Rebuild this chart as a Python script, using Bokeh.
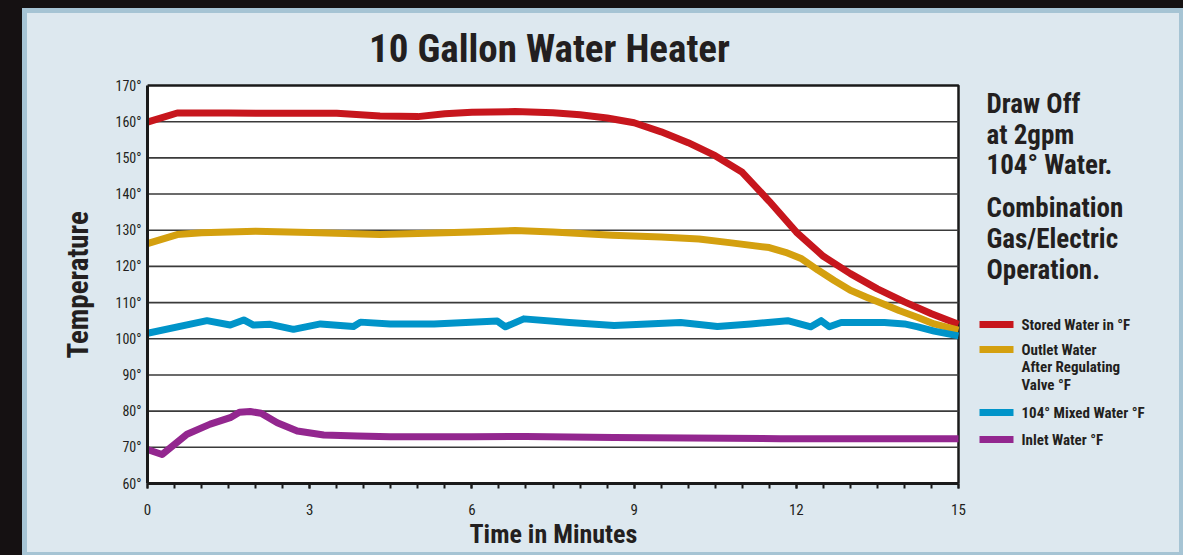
from bokeh.plotting import figure
from bokeh.models import Range1d, FixedTicker, Label, BoxAnnotation, Title
from bokeh.embed import file_html
from bokeh.resources import INLINE

# ---------------- data ----------------
stored_t = [0, 0.55, 1.5, 2.5, 3.5, 4.3, 5.0, 5.5, 6.0, 6.8, 7.5, 8.0, 8.5, 9.0,
            9.5, 10.0, 10.5, 11.0, 11.5, 12.0, 12.5, 13.0, 13.5, 14.0, 14.5, 15.0]
stored_v = [159.9, 162.4, 162.4, 162.3, 162.3, 161.6, 161.4, 162.2, 162.6, 162.8,
            162.5, 161.9, 161.0, 159.7, 157.2, 154.2, 150.6, 146.0, 138.0, 129.5,
            122.8, 118.0, 113.8, 110.2, 106.9, 104.0]

outlet_t = [0, 0.55, 1.0, 2.0, 3.0, 4.3, 5.0, 6.0, 6.8, 7.5, 8.6, 9.5, 10.2, 10.8,
            11.5, 11.8, 12.1, 12.4, 12.7, 13.0, 13.3, 13.6, 13.9, 14.25, 14.55, 15.0]
outlet_v = [126.3, 128.8, 129.3, 129.7, 129.4, 128.8, 129.1, 129.5, 129.9, 129.5,
            128.6, 128.1, 127.6, 126.5, 125.2, 123.9, 122.1, 119.0, 116.1, 113.4,
            111.5, 109.7, 107.8, 105.9, 104.1, 102.4]

mixed_t = [0, 1.1, 1.53, 1.78, 1.96, 2.27, 2.7, 3.2, 3.81, 3.94, 4.49, 5.3, 6.47,
           6.62, 6.96, 7.8, 8.63, 9.86, 10.42, 10.54, 11.16, 11.84, 12.27, 12.46,
           12.61, 12.83, 13.63, 14.0, 14.25, 14.55, 15.0]
mixed_v = [101.5, 105.0, 103.8, 105.2, 103.8, 104.0, 102.6, 104.1, 103.4, 104.6,
           104.1, 104.1, 104.9, 103.3, 105.5, 104.5, 103.7, 104.5, 103.6, 103.4,
           104.1, 105.0, 103.3, 105.0, 103.3, 104.5, 104.5, 104.1, 103.3, 102.1, 100.8]

inlet_t = [0, 0.27, 0.73, 1.16, 1.53, 1.7, 1.9, 2.1, 2.4, 2.77, 3.26, 3.88, 4.49,
           6.0, 7.0, 8.63, 11.71, 15.0]
inlet_v = [69.4, 68.0, 73.6, 76.4, 78.2, 79.7, 79.9, 79.4, 76.8, 74.5, 73.4, 73.1,
           72.9, 72.9, 73.0, 72.7, 72.4, 72.4]

x_ticks = [0, 3, 6, 9, 12, 15]
y_ticks = [60, 70, 80, 90, 100, 110, 120, 130, 140, 150, 160, 170]

title_text = "10 Gallon Water Heater"
x_title = "Time in Minutes"
y_title = "Temperature"
note_lines = ["Draw Off", "at 2gpm", "104\u00b0 Water.", "Combination", "Gas/Electric", "Operation."]
legend_labels = [["Stored Water in \u00b0F"],
                 ["Outlet Water", "After Regulating", "Valve \u00b0F"],
                 ["104\u00b0 Mixed Water \u00b0F"],
                 ["Inlet Water \u00b0F"]]

# ---------------- style / layout ----------------
FONT = "Roboto Condensed, DejaVu Sans Condensed, Liberation Sans, sans-serif"
RED, GOLD, BLUE, PURPLE = "#c7161d", "#d4a00f", "#0094c9", "#93278f"
PANEL, EDGE, DARK, INK = "#dde8ef", "#a6c4d4", "#151112", "#231f20"

OX, OY = 22, 8                      # figure offset on the page (dark band)
W, H = 1183 - OX, 555 - OY
PL, PR, PT, PB = 147, 958, 85, 483  # plot box on the page (x 0..15, y 60..170)
ML = PL - OX
MB = 555 - PB
FW = W - ML
XPX = (PR - PL) / 15.0
YPX = (PB - PT) / 110.0
x_end = 15.0 * FW / (PR - PL)
y_top = 170.0 + (PT - OY) / YPX
MID = 0.33                          # baseline -> text-middle shift (em)

def px2x(px):
    return (px - PL) / XPX

def px2y(py):
    return 170.0 - (py - PT) / YPX

p = figure(width=W, height=H, x_range=Range1d(0, x_end), y_range=Range1d(60, y_top),
           output_backend="svg", toolbar_location=None, title=None,
           min_border_left=ML, min_border_right=0, min_border_top=0, min_border_bottom=MB)
p.background_fill_alpha = 0
p.border_fill_alpha = 0
p.outline_line_color = None
p.styles = {
    "margin-left": f"{OX}px",
    "margin-top": f"{OY}px",
    "background-color": PANEL,
    "box-shadow": (f"-{OX}px 0 0 0 {DARK}, 0 -{OY}px 0 0 {DARK}, -{OX}px -{OY}px 0 0 {DARK}, "
                   f"inset 5px 5px 0 0 {EDGE}, inset -4px -3px 0 0 {EDGE}"),
}

# plot box and grid
p.quad(left=[0], right=[15], bottom=[60], top=[170], fill_color="white",
       line_color="#1a1a1a", line_width=2.5, level="image")
inner = y_ticks[1:-1]
p.segment(x0=[0] * len(inner), x1=[15] * len(inner), y0=inner, y1=inner,
          line_color="#3a3a3a", line_width=1.6, level="image")
p.xgrid.visible = False
p.ygrid.visible = False

# axes
xa = p.xaxis[0]
xa.bounds = (0, 15)
xa.ticker = FixedTicker(ticks=x_ticks, minor_ticks=[i * 0.5 for i in range(31)])
xa.axis_line_width = 3
xa.axis_line_color = "#1a1a1a"
xa.major_tick_out = 5
xa.major_tick_in = 0
xa.minor_tick_out = 5
xa.minor_tick_in = 0
xa.major_tick_line_width = 2
xa.minor_tick_line_width = 2
xa.major_tick_line_color = "#1a1a1a"
xa.minor_tick_line_color = "#1a1a1a"
xa.major_label_text_font = FONT
xa.major_label_text_font_size = "15px"
xa.major_label_text_color = INK
xa.major_label_standoff = 15

ya = p.yaxis[0]
ya.bounds = (60, 170)
ya.ticker = FixedTicker(ticks=y_ticks)
ya.axis_line_width = 3
ya.axis_line_color = "#1a1a1a"
ya.major_tick_out = 0
ya.major_tick_in = 0
ya.minor_tick_line_color = None
ya.major_label_text_font = FONT
ya.major_label_text_font_size = "14px"
ya.major_label_text_color = INK
ya.major_label_standoff = 6
ya.major_label_overrides = {t: f"{t}\u00b0" for t in y_ticks}

# axis titles as side-panel titles (positioned along the plot box)
p.add_layout(Title(text=y_title, align="left", offset=125, vertical_align="bottom",
                   standoff=36, text_font=FONT, text_font_style="bold",
                   text_font_size="29px", text_color=INK), "left")
p.add_layout(Title(text=x_title, align="left", offset=322, vertical_align="top",
                   standoff=2, text_font=FONT, text_font_style="bold",
                   text_font_size="26px", text_color=INK), "below")

# lines
for tt, vv, c in [(stored_t, stored_v, RED), (outlet_t, outlet_v, GOLD),
                  (mixed_t, mixed_v, BLUE), (inlet_t, inlet_v, PURPLE)]:
    p.line(tt, vv, line_color=c, line_width=7, line_join="round")

def text(px, base, s, fs, align="left"):
    p.add_layout(Label(x=px2x(px), y=px2y(base - MID * fs), text=s, text_font=FONT,
                       text_font_style="bold", text_font_size=f"{fs}px", text_color=INK,
                       text_align=align, text_baseline="middle"))

# title
text(549, 61.5, title_text, 39, "center")

# right-hand notes
note_base = [112.7, 143.5, 173.5, 216.7, 247.3, 278.3]
for s, b in zip(note_lines, note_base):
    text(986, b, s, 27)

# legend
colors = [RED, GOLD, BLUE, PURPLE]
sw_center = [324, 349, 412, 439]
first_base = [329.3, 354.3, 417.3, 444.3]
for lines, c, sc, fb in zip(legend_labels, colors, sw_center, first_base):
    p.add_layout(BoxAnnotation(left=px2x(979), right=px2x(1013), top=px2y(sc - 3.5),
                               bottom=px2y(sc + 3.5), fill_color=c, fill_alpha=1,
                               line_color=None))
    for k, ln in enumerate(lines):
        text(1021, fb + k * 17.5, ln, 15)

open("out.html", "w").write(file_html(p, INLINE))
